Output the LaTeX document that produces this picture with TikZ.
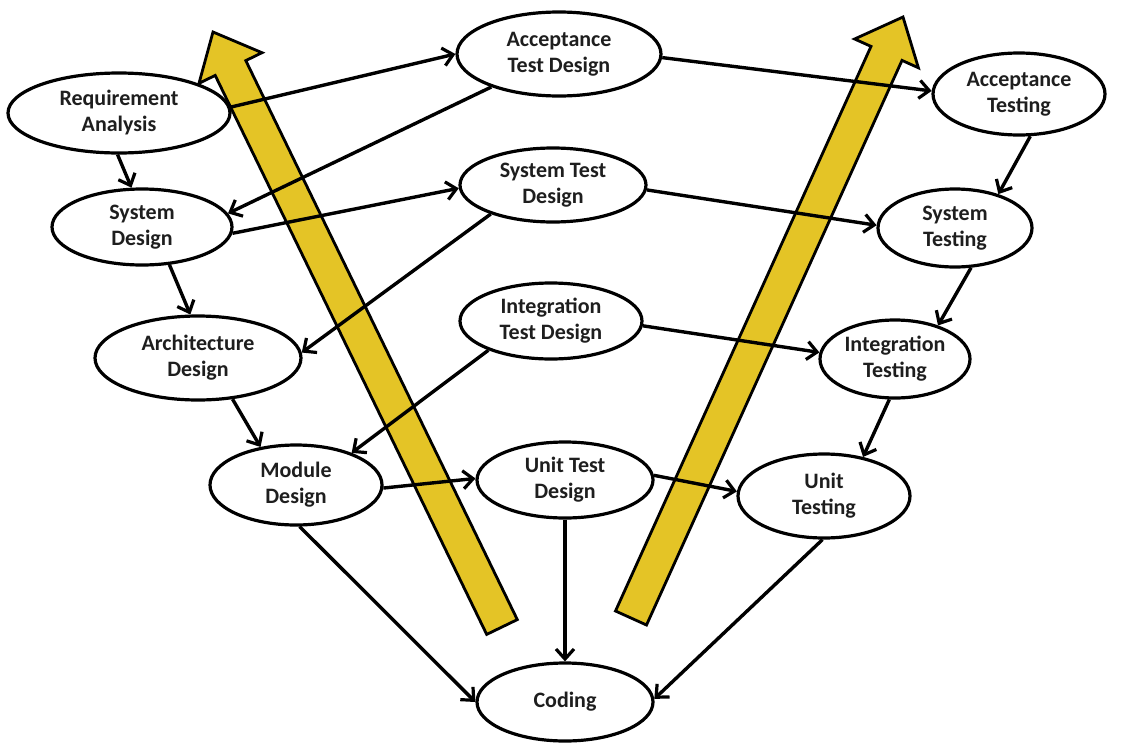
\documentclass[tikz,border=0pt]{standalone}
\usepackage{fontspec}
\setmainfont{Carlito}
\usetikzlibrary{shapes.geometric,arrows.meta}
\definecolor{vyellow}{RGB}{228,196,38}
\definecolor{txt}{RGB}{30,30,30}
\begin{document}
\begin{tikzpicture}[x=1pt,y=-1pt,
  phase/.style={ellipse, draw, line width=3.2pt, fill=white, inner sep=0pt, align=center,
    font=\fontsize{22}{26}\selectfont\bfseries, text=txt},
  link/.style={line width=3.4pt, -{Straight Barb[length=10pt,width=18pt,line width=3.2pt]}},
  bigarrow/.style={fill=vyellow, draw=black, line width=2.8pt, line join=miter}]
\useasboundingbox (0,0) rectangle (1124,744);

% yellow arrows
\draw[bigarrow] (486.7,634.4) -- (215.2,75.4) -- (199,83.3) -- (213,32) -- (262,52.7) -- (245.8,60.6) -- (517.3,619.6) -- cycle;
\draw[bigarrow] (615.5,611) -- (871,46.4) -- (854.6,39) -- (903,17) -- (918.4,67.8) -- (902,60.4) -- (646.5,625) -- cycle;

% phases
\node[phase, minimum width=222pt, minimum height=80pt] (ra) at (119,113) {Requirement\\Analysis};
\node[phase, minimum width=204pt, minimum height=84pt] (atd) at (559,54) {Acceptance\\Test Design};
\node[phase, minimum width=172pt, minimum height=82pt] (at) at (1019,94) {Acceptance\\Testing};
\node[phase, minimum width=180pt, minimum height=76pt] (sd) at (142,227) {System\\Design};
\node[phase, minimum width=186pt, minimum height=74pt] (std) at (553,185) {System Test\\Design};
\node[phase, minimum width=154pt, minimum height=78pt] (st) at (955,228) {System\\Testing};
\node[phase, minimum width=206pt, minimum height=84pt] (ad) at (198,358) {Architecture\\Design};
\node[phase, minimum width=182pt, minimum height=76pt] (itd) at (551,321) {Integration\\Test Design};
\node[phase, minimum width=150pt, minimum height=78pt] (it) at (895,359) {Integration\\Testing};
\node[phase, minimum width=172pt, minimum height=80pt] (md) at (296,485) {Module\\Design};
\node[phase, minimum width=176pt, minimum height=76pt] (utd) at (565,480) {Unit Test\\Design};
\node[phase, minimum width=172pt, minimum height=84pt] (ut) at (824,496) {Unit\\Testing};
\node[phase, minimum width=176pt, minimum height=78pt] (cod) at (565,702) {Coding};

% connectors
\draw[link] (ra.3) -- (atd.180);
\draw[link] (atd.358) -- (at.178);
\draw[link] (atd.206) -- (sd.9);
\draw[link] (ra.268) -- (sd.105);
\draw[link] (sd.356) -- (std.182);
\draw[link] (at.285) -- (st.38);
\draw[link] (std.357) -- (st.178);
\draw[link] (std.205) -- (ad.3);
\draw[link] (sd.306) -- (ad.100);
\draw[link] (st.292) -- (it.38);
\draw[link] (itd.357) -- (it.175);
\draw[link] (itd.205) -- (md.30);
\draw[link] (ad.310) -- (md.133);
\draw[link] (it.262) -- (ut.45);
\draw[link] (md.358) -- (utd.179);
\draw[link] (utd.3) -- (ut.177);
\draw[link] (md.275) -- (cod.180);
\draw[link] (utd.south) -- (cod.north);
\draw[link] (ut.268) -- (cod.2);
\end{tikzpicture}
\end{document}
